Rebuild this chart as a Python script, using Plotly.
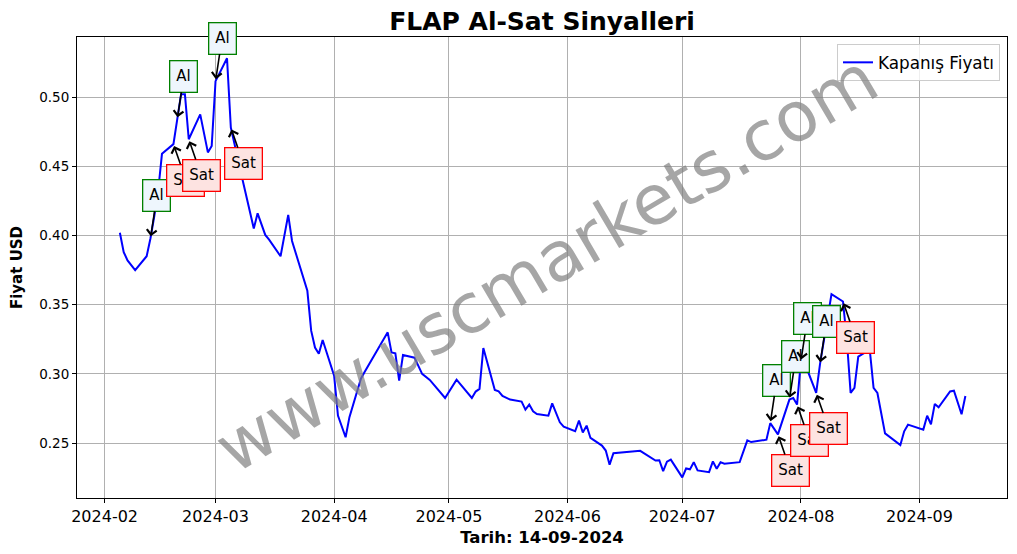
import plotly.graph_objects as go

dates = [
    "2024-02-05", "2024-02-06", "2024-02-07", "2024-02-09", "2024-02-12", "2024-02-13",
    "2024-02-14", "2024-02-15", "2024-02-16", "2024-02-19", "2024-02-20", "2024-02-21",
    "2024-02-22", "2024-02-23", "2024-02-26", "2024-02-28", "2024-02-29", "2024-03-01",
    "2024-03-04", "2024-03-05", "2024-03-08", "2024-03-11", "2024-03-12", "2024-03-14",
    "2024-03-15", "2024-03-18", "2024-03-20", "2024-03-21", "2024-03-25", "2024-03-26",
    "2024-03-27", "2024-03-28", "2024-03-29", "2024-04-01", "2024-04-02", "2024-04-04",
    "2024-04-05", "2024-04-08", "2024-04-09", "2024-04-15", "2024-04-16", "2024-04-17",
    "2024-04-18", "2024-04-19", "2024-04-22", "2024-04-24", "2024-04-26", "2024-04-30",
    "2024-05-03", "2024-05-07", "2024-05-08", "2024-05-09", "2024-05-10", "2024-05-13",
    "2024-05-14", "2024-05-15", "2024-05-17", "2024-05-20", "2024-05-21", "2024-05-22",
    "2024-05-23", "2024-05-24", "2024-05-27", "2024-05-28", "2024-05-30", "2024-05-31",
    "2024-06-03", "2024-06-04", "2024-06-05", "2024-06-06", "2024-06-07", "2024-06-10",
    "2024-06-11", "2024-06-12", "2024-06-13", "2024-06-20", "2024-06-24", "2024-06-25",
    "2024-06-26", "2024-06-27", "2024-06-28", "2024-07-01", "2024-07-02", "2024-07-03",
    "2024-07-04", "2024-07-05", "2024-07-08", "2024-07-09", "2024-07-10", "2024-07-11",
    "2024-07-12", "2024-07-16", "2024-07-18", "2024-07-19", "2024-07-23", "2024-07-24",
    "2024-07-26", "2024-07-29", "2024-07-30", "2024-07-31", "2024-08-01", "2024-08-02",
    "2024-08-05", "2024-08-06", "2024-08-09", "2024-08-12", "2024-08-13", "2024-08-14",
    "2024-08-15", "2024-08-16", "2024-08-19", "2024-08-20", "2024-08-21", "2024-08-23",
    "2024-08-27", "2024-08-28", "2024-08-29", "2024-09-02", "2024-09-03", "2024-09-04",
    "2024-09-05", "2024-09-06", "2024-09-09", "2024-09-10", "2024-09-12", "2024-09-13",
]
prices = [
    0.402, 0.388, 0.382, 0.375, 0.385, 0.398,
    0.414, 0.432, 0.459, 0.466, 0.484, 0.502,
    0.502, 0.4695, 0.4875, 0.460, 0.4647, 0.5115,
    0.528, 0.478, 0.441, 0.405, 0.416, 0.4004,
    0.397, 0.385, 0.4149, 0.396, 0.360, 0.3312,
    0.319, 0.3145, 0.3245, 0.2987, 0.2698, 0.2542,
    0.2687, 0.2965, 0.3015, 0.330, 0.3155, 0.3148,
    0.2951, 0.3136, 0.3117, 0.300, 0.2956, 0.2826,
    0.2958, 0.2826, 0.2872, 0.2891, 0.3187, 0.2884,
    0.2874, 0.284, 0.2814, 0.280, 0.2742, 0.2778,
    0.2729, 0.271, 0.2698, 0.2787, 0.265, 0.2619,
    0.2585, 0.2662, 0.2576, 0.2626, 0.2537, 0.2482,
    0.2446, 0.2344, 0.2426, 0.2444, 0.2374, 0.2376,
    0.2297, 0.2366, 0.2380, 0.2252, 0.2316, 0.2310,
    0.2362, 0.2302, 0.2290, 0.2367, 0.2314, 0.2362,
    0.2351, 0.2362, 0.2519, 0.2507, 0.2524, 0.2644,
    0.2563, 0.2814, 0.2826, 0.2778, 0.309, 0.3078,
    0.2862, 0.307, 0.3576, 0.3523, 0.325, 0.2862,
    0.2898, 0.3124, 0.3175, 0.2898, 0.2862, 0.257,
    0.2485, 0.2585, 0.2633, 0.2597, 0.2698, 0.2636,
    0.2783, 0.2758, 0.2873, 0.2878, 0.2708, 0.2840,
]

buy_dates = ["2024-02-13", "2024-02-20", "2024-03-01", "2024-07-24", "2024-07-29", "2024-08-01", "2024-08-06"]
sell_dates = ["2024-02-19", "2024-02-23", "2024-03-05", "2024-07-26", "2024-07-31", "2024-08-05", "2024-08-12"]

title = "FLAP Al-Sat Sinyalleri"
x_title = "Tarih: 14-09-2024"
y_title = "Fiyat USD"
legend_name = "Kapanış Fiyatı"
watermark = "www.uscmarkets.com"
y_ticks = [0.25, 0.30, 0.35, 0.40, 0.45, 0.50]
x_ticks = ["2024-02-01", "2024-03-01", "2024-04-01", "2024-05-01", "2024-06-01",
           "2024-07-01", "2024-08-01", "2024-09-01"]

price_of = dict(zip(dates, prices))
FONT = "DejaVu Sans"

fig = go.Figure()
fig.add_trace(go.Scatter(x=dates, y=prices, mode="lines", name=legend_name,
                         line=dict(color="#0000ff", width=2)))

annotations = [dict(
    text=watermark, xref="paper", yref="paper", x=0.505, y=0.51,
    showarrow=False, textangle=-30.5, font=dict(family=FONT, size=69, color="rgba(128,128,128,0.7)"),
)]

signals = [(d, "Al") for d in buy_dates] + [(d, "Sat") for d in sell_dates]
signals.sort(key=lambda s: s[0])
for d, kind in signals:
    if kind == "Al":
        ax, ay, bg, bc = 6.5, -43, "#eef6fd", "green"
    else:
        ax, ay, bg, bc = 12.5, 36, "#fde3e1", "red"
    annotations.append(dict(
        x=d, y=price_of[d], xref="x", yref="y", text=kind,
        showarrow=True, ax=ax, ay=ay, axref="pixel", ayref="pixel",
        arrowhead=4, arrowsize=1.2, arrowwidth=1.6, arrowcolor="black", standoff=2,
        bgcolor=bg, bordercolor=bc, borderwidth=1.3, borderpad=6,
        font=dict(family=FONT, size=15, color="black"),
    ))

fig.update_layout(
    width=1017, height=554,
    margin=dict(l=77, r=10, t=37, b=56),
    paper_bgcolor="white", plot_bgcolor="white",
    font=dict(family=FONT, size=14, color="black"),
    title=dict(text="<b>" + title + "</b>", x=0.533, xanchor="center", y=0.962, yanchor="middle",
               font=dict(family=FONT, size=25, color="black")),
    showlegend=True,
    legend=dict(x=0.9925, y=0.985, xanchor="right", yanchor="top", itemwidth=30,
                bgcolor="rgba(255,255,255,0.8)", bordercolor="#cccccc", borderwidth=1,
                font=dict(family=FONT, size=16.8)),
    annotations=annotations,
)
fig.update_xaxes(
    type="date", range=["2024-01-24 19:00", "2024-09-23 21:00"],
    tickvals=x_ticks, tickformat="%Y-%m",
    showgrid=True, gridcolor="#b0b0b0", gridwidth=1,
    showline=True, linecolor="black", linewidth=1, mirror=True,
    ticks="outside", ticklen=4, tickcolor="black",
    tickfont=dict(family=FONT, size=16),
    title=dict(text="<b>" + x_title + "</b>", font=dict(family=FONT, size=16.5), standoff=6),
)
fig.update_yaxes(
    range=[0.2103, 0.5434], tickvals=y_ticks, tickformat=".2f",
    showgrid=True, gridcolor="#b0b0b0", gridwidth=1,
    showline=True, linecolor="black", linewidth=1, mirror=True,
    ticks="outside", ticklen=4, tickcolor="black",
    tickfont=dict(family=FONT, size=13.5),
    title=dict(text="<b>" + y_title + "</b>", font=dict(family=FONT, size=15), standoff=12),
)

fig.write_html("out.html")
